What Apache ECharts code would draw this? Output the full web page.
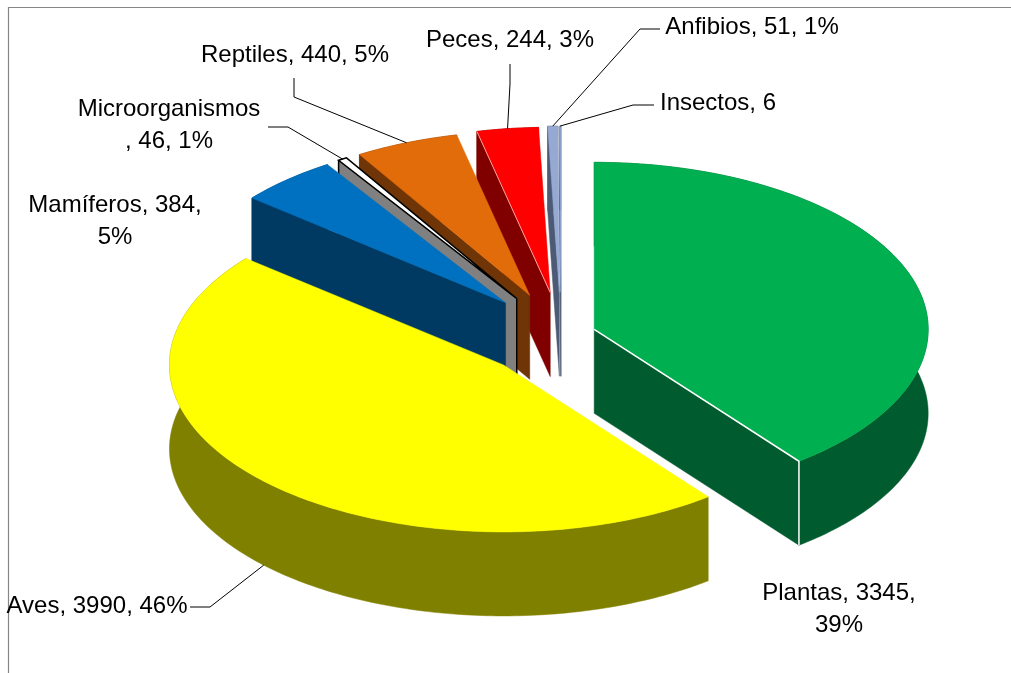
<!DOCTYPE html>
<html>
<head>
<meta charset="utf-8">
<title>Especies</title>
<script src="https://cdn.jsdelivr.net/npm/echarts@6/dist/echarts.min.js"></script>
<style>
    html, body { margin: 0; padding: 0; background: #fff; }
    #chart { width: 1011px; height: 673px; }
</style>
</head>
<body>
<div id="chart"></div>
<script>
const names = ['Plantas', 'Aves', 'Mamíferos', 'Microorganismos', 'Reptiles', 'Peces', 'Anfibios', 'Insectos'];
const values = [3345, 3990, 384, 46, 440, 244, 51, 6];
const percents = [39, 46, 5, 1, 5, 3, 1, null];
// printed values do not add up to the drawn slices, so slice sizes are read off the picture
const shares = [39.5, 46.5, 4.9, 0.45, 5.1, 3.0, 0.49, 0.07];

const topColors = ['#00B050', '#FFFF00', '#0070C0', '#FFFFFF', '#E36C0A', '#FF0000', '#95A9D2', '#95A9D2'];
const sideColors = ['#005C2E', '#808000', '#003A63', '#808080', '#6F3506', '#800000', '#4D5A75', '#4D5A75'];
const edgeColors = ['#FFFFFF', null, null, null, null, '#FFA0A0', null, null];
const explode = [0.105, 0.24, 0.25, 0.25, 0.25, 0.25, 0.25, 0.25];
// small corrections: the source pie has a slight perspective, back slices look shorter
const radiusScale = [1, 1, 0.985, 0.985, 0.985, 0.99, 0.995, 0.995];
const nudgeY = [1, 3, 0, 0, 0, 0, 0, 0];
const drawOrder = [7, 6, 5, 4, 3, 2, 0, 1];

// pie geometry in pixels
const pie = { cx: 561, cy: 334, rx: 334, ry: 167, depth: 84 };

// label centre and the two leader points before it reaches the slice
const labelLayout = [
    { x: 839, y: 609, wrap: 'pct' },
    { x: 97, y: 606, line: [[190, 607], [210, 607]], onWall: true },
    { x: 115, y: 221, wrap: 'pct' },
    { x: 169, y: 125, wrap: 'name', line: [[268, 127], [288, 127]] },
    { x: 295, y: 55, line: [[294, 78], [294, 97]] },
    { x: 510, y: 40, line: [[510, 64], [510, 84]] },
    { x: 752, y: 27, line: [[660, 29], [640, 29]] },
    { x: 718, y: 103, line: [[654, 105], [633, 105]] }
];

const total = shares.reduce((a, b) => a + b, 0);
function sliceAngles(i) {
    let start = 0;
    for (let k = 0; k < i; k++) {
        start += shares[k] / total * 360;
    }
    return [start, start + shares[i] / total * 360];
}
function toPoint(o, deg, r) {
    const a = deg * Math.PI / 180;
    return [o[0] + pie.rx * r * Math.sin(a), o[1] - pie.ry * r * Math.cos(a)];
}
function sliceApex(i) {
    const ang = sliceAngles(i);
    const p = toPoint([pie.cx, pie.cy], (ang[0] + ang[1]) / 2, explode[i]);
    return [p[0], p[1] + nudgeY[i]];
}
function down(p) {
    return [p[0], p[1] + pie.depth];
}

function renderSlice(params, api) {
    const i = api.value(0);
    const ang = sliceAngles(i);
    const apex = sliceApex(i);
    const steps = Math.max(2, Math.ceil(ang[1] - ang[0]));
    const arc = [];
    for (let s = 0; s <= steps; s++) {
        arc.push(toPoint(apex, ang[0] + (ang[1] - ang[0]) * s / steps, radiusScale[i]));
    }
    const first = arc[0];
    const last = arc[arc.length - 1];
    const isOutlined = names[i] === 'Microorganismos';
    const sideStyle = { fill: sideColors[i], stroke: sideColors[i], lineWidth: 0.5 };
    const topStyle = {
        fill: topColors[i],
        stroke: isOutlined ? '#000' : topColors[i],
        lineWidth: isOutlined ? 1.5 : 0.5
    };
    const wallArc = arc.concat(arc.slice().reverse().map(down));
    const children = [];
    // only the cut faces that turn towards the viewer are drawn
    if (Math.sin(ang[0] * Math.PI / 180) < 0) {
        children.push({ type: 'polygon', shape: { points: [apex, first, down(first), down(apex)] }, style: sideStyle });
    }
    if (Math.sin(ang[1] * Math.PI / 180) > 0) {
        children.push({ type: 'polygon', shape: { points: [apex, last, down(last), down(apex)] }, style: sideStyle });
    }
    children.push({ type: 'polygon', shape: { points: wallArc }, style: sideStyle });
    children.push({ type: 'polygon', shape: { points: [apex].concat(arc) }, style: topStyle });
    if (isOutlined) {
        children.push({
            type: 'polyline',
            shape: { points: [first, down(first)] },
            style: { fill: null, stroke: '#000', lineWidth: 1.5 }
        });
        children.push({
            type: 'polyline',
            shape: { points: [apex, down(apex)] },
            style: { fill: null, stroke: '#000', lineWidth: 1.5 }
        });
    }
    if (edgeColors[i]) {
        const corner = i === 0 ? last : first;
        children.push({
            type: 'polyline',
            shape: { points: i === 0 ? [apex, corner, down(corner)] : [apex, corner] },
            style: { fill: null, stroke: edgeColors[i], lineWidth: i === 0 ? 1.5 : 1 }
        });
    }
    return { type: 'group', children: children };
}

function labelText(i) {
    const head = names[i];
    const pct = percents[i] === null ? '' : percents[i] + '%';
    const wrap = labelLayout[i].wrap;
    if (wrap === 'name') {
        return head + '\n, ' + values[i] + ', ' + pct;
    }
    if (wrap === 'pct') {
        return head + ', ' + values[i] + ',\n' + pct;
    }
    return head + ', ' + values[i] + (pct ? ', ' + pct : '');
}

function renderLabel(params, api) {
    const i = api.value(0);
    const lay = labelLayout[i];
    const children = [];
    if (lay.line) {
        const ang = sliceAngles(i);
        const end = toPoint(sliceApex(i), (ang[0] + ang[1]) / 2, radiusScale[i]);
        children.push({
            type: 'polyline',
            shape: { points: lay.line.concat([lay.onWall ? down(end) : end]) },
            style: { fill: null, stroke: '#000', lineWidth: 1 }
        });
    }
    children.push({
        type: 'text',
        style: {
            x: lay.x,
            y: lay.y,
            text: labelText(i),
            fill: '#000',
            font: '24px "Liberation Sans", Arial, sans-serif',
            lineHeight: 32,
            align: 'center',
            verticalAlign: 'middle'
        }
    });
    return { type: 'group', children: children };
}

const myChart = echarts.init(document.getElementById('chart'), null, { renderer: 'canvas' });
myChart.setOption({
    animation: false,
    backgroundColor: '#fff',
    graphic: [{
        type: 'polyline',
        shape: { points: [[8.5, 673], [8.5, 7.5], [1011, 7.5]] },
        style: { fill: null, stroke: '#868686', lineWidth: 1.2 },
        z: 0
    }],
    series: [
        {
            type: 'custom',
            coordinateSystem: 'none',
            renderItem: renderSlice,
            data: drawOrder.map(i => [i]),
            silent: true,
            z: 2
        },
        {
            type: 'custom',
            coordinateSystem: 'none',
            renderItem: renderLabel,
            data: names.map((n, i) => [i]),
            silent: true,
            z: 3
        }
    ]
});
</script>
</body>
</html>
